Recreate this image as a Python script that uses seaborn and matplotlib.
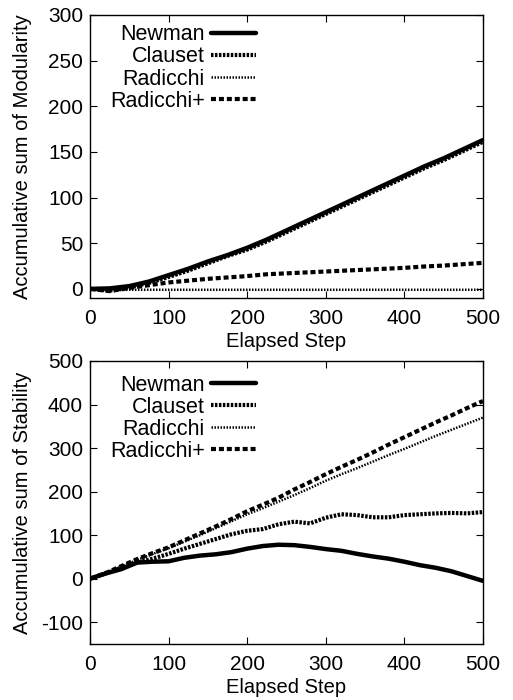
"""
plot.py
Accumulative sums of modularity and stability over elapsed steps
for four community detection methods (two stacked panels).
"""

import numpy as np
import pandas as pd
import matplotlib
matplotlib.use('Agg')
import matplotlib.pyplot as plt
import seaborn as sns

OUT_PATH = 'out.png'
TICK_FS = 15
LABEL_FS = 14.5
LEG_FS = 15.5

# ---- data: top panel (modularity), sampled every 25 steps
steps_mod = [0, 25, 50, 75, 100, 125, 150, 175, 200, 225, 250,
             275, 300, 325, 350, 375, 400, 425, 450, 475, 500]
newman_mod = [0, 0.5, 3, 8, 15, 22, 30, 37, 45, 54, 64,
              74, 84, 94, 104, 114, 124, 134, 143, 153, 163]
clauset_mod = [0, -2, 1.5, 6.5, 13, 20, 28, 36, 43, 52, 62,
               72, 82, 92, 102, 112, 122, 132, 141, 151, 161]
radicchi_mod = [-1, -1.5, -1, -1, -1, -1, -1, -1, -1, -1, -1,
                -1, -1, -1, -1, -1, -1, -1, -1, -1, -1]
radicchip_mod = [0, -2.5, 1, 4, 7, 9, 11, 12.5, 14, 16, 17,
                 18, 19, 20, 21, 22, 23, 24.5, 25.5, 27, 28.5]

# ---- data: bottom panel (stability), sampled every 20 steps
steps_stab = [0, 20, 40, 60, 80, 100, 120, 140, 160, 180, 200, 220, 240,
              260, 280, 300, 320, 340, 360, 380, 400, 420, 440, 460, 480, 500]
newman_stab = [0, 12, 22, 37, 39, 40, 48, 53, 56, 61, 69, 75, 78,
               77, 73, 68, 64, 57, 51, 46, 39, 31, 25, 17, 6, -5]
clauset_stab = [0, 12, 25, 37, 46, 57, 69, 80, 91, 102, 110, 114, 125,
                131, 127, 140, 148, 146, 141, 141, 146, 148, 150, 151, 150, 153]
radicchi_stab = [0, 13, 28, 43, 57, 70, 85, 100, 116, 132, 148, 162, 177,
                 192, 208, 225, 240, 254, 269, 284, 298, 313, 328, 342, 356, 370]
radicchip_stab = [0, 13, 29, 45, 59, 72, 88, 104, 120, 137, 155, 170, 186,
                  205, 222, 240, 257, 273, 290, 308, 325, 342, 359, 375, 392, 408]

methods = ['Newman', 'Clauset', 'Radicchi', 'Radicchi+']

# line styles (gnuplot-like black lines)
styles = {
    'Newman':    dict(lw=3.2, ls='-'),
    'Clauset':   dict(lw=3.0, ls=(0, (0.6, 0.35))),
    'Radicchi':  dict(lw=1.8, ls=(0, (0.6, 0.6))),
    'Radicchi+': dict(lw=3.0, ls=(0, (1.2, 0.7))),
}


def to_long(steps, series):
    frames = []
    for name, vals in zip(methods, series):
        frames.append(pd.DataFrame({'step': steps, 'value': vals, 'method': name}))
    return pd.concat(frames, ignore_index=True)


mod_df = to_long(steps_mod, [newman_mod, clauset_mod, radicchi_mod, radicchip_mod])
stab_df = to_long(steps_stab, [newman_stab, clauset_stab, radicchi_stab, radicchip_stab])

sns.set_style('ticks')
plt.rcParams['font.family'] = ['Liberation Sans', 'DejaVu Sans']
plt.rcParams['axes.unicode_minus'] = False
plt.rcParams['text.color'] = 'black'
plt.rcParams['axes.labelcolor'] = 'black'

fig = plt.figure(figsize=(5.13, 7.0), dpi=100)
ax_top = fig.add_axes([0.1754, 0.5743, 0.766, 0.4043])
ax_bot = fig.add_axes([0.1754, 0.0800, 0.766, 0.4043])


def draw_panel(ax, df, ylabel, ylim, yticks, leg_y):
    for name in methods:
        sub = df[df['method'] == name]
        sns.lineplot(data=sub, x='step', y='value', ax=ax, color='black',
                     label=name, linestyle=styles[name]['ls'],
                     linewidth=styles[name]['lw'], errorbar=None)
    ax.set_xlim(0, 500)
    ax.set_ylim(*ylim)
    ax.set_xticks(range(0, 501, 100))
    ax.set_yticks(yticks)
    ax.set_xlabel('Elapsed Step', fontsize=LABEL_FS, labelpad=2.5, color='black')
    ax.set_ylabel(ylabel, fontsize=LABEL_FS, color='black')
    ax.yaxis.set_label_coords(-0.148, 0.5)
    ax.tick_params(direction='in', length=5, width=0.8, top=True, right=True,
                   labelsize=TICK_FS, pad=5, colors='black')
    ax.tick_params(axis='x', pad=8)
    for sp in ax.spines.values():
        sp.set_linewidth(1.0)
        sp.set_color('black')
    ax.legend(loc='upper left', markerfirst=False, frameon=False,
              handlelength=2.1, handletextpad=0.3, labelspacing=0.05,
              fontsize=LEG_FS, borderaxespad=0.3, labelcolor='black',
              bbox_to_anchor=(0.012, leg_y))


draw_panel(ax_top, mod_df, 'Accumulative sum of Modularity', (-10, 300),
           range(0, 301, 50), 1.02)
draw_panel(ax_bot, stab_df, 'Accumulative sum of Stability', (-150, 500),
           range(-100, 501, 100), 1.005)

fig.savefig(OUT_PATH, dpi=100)
